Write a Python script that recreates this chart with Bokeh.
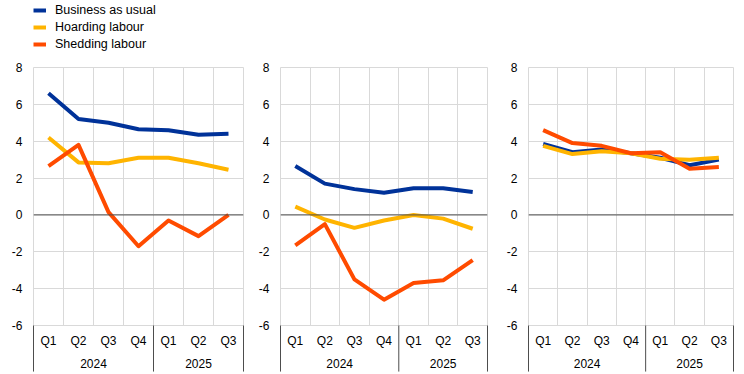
from bokeh.plotting import figure
from bokeh.models import (FactorRange, Range1d, FixedTicker, Span, Legend, LegendItem,
                          ColumnDataSource)
from bokeh.layouts import row, column
from bokeh.embed import file_html
from bokeh.resources import INLINE

# ---- data -------------------------------------------------------------
years = ["2024", "2025"]
quarters_2024 = ["Q1", "Q2", "Q3", "Q4"]
quarters_2025 = ["Q1", "Q2", "Q3"]
factors = [(years[0], q) for q in quarters_2024] + [(years[1], q) for q in quarters_2025]

y_ticks = [-6, -4, -2, 0, 2, 4, 6, 8]
y_tick_labels = {t: str(t) for t in y_ticks}

series_names = ["Business as usual", "Hoarding labour", "Shedding labour"]
series_colors = ["#003299", "#FFB400", "#FF4B00"]

p1_business = [6.6, 5.2, 5.0, 4.65, 4.6, 4.35, 4.4]
p1_hoarding = [4.2, 2.85, 2.8, 3.1, 3.1, 2.8, 2.45]
p1_shedding = [2.65, 3.8, 0.15, -1.7, -0.3, -1.15, 0.0]

p2_business = [2.65, 1.7, 1.4, 1.2, 1.45, 1.45, 1.25]
p2_hoarding = [0.45, -0.25, -0.7, -0.3, 0.0, -0.2, -0.75]
p2_shedding = [-1.65, -0.5, -3.5, -4.6, -3.7, -3.55, -2.45]

p3_business = [3.85, 3.4, 3.55, 3.35, 3.1, 2.7, 3.0]
p3_hoarding = [3.75, 3.3, 3.45, 3.35, 3.05, 3.0, 3.1]
p3_shedding = [4.6, 3.9, 3.75, 3.35, 3.4, 2.5, 2.6]

# ---- styling ----------------------------------------------------------
FONT = "Liberation Sans"
GRID = "#d9d9d9"
DARK = "#4d4d4d"
LEGEND_H = 56
HEIGHT = 374 - LEGEND_H
TOP = 67 - LEGEND_H
BOTTOM = 49
LINE_W = 4


def make_panel(series, width, left, right):
    p = figure(
        x_range=FactorRange(factors=factors, factor_padding=0, group_padding=0,
                            subgroup_padding=0, range_padding=0),
        y_range=Range1d(y_ticks[0], y_ticks[-1]),
        width=width, height=HEIGHT, output_backend="svg", toolbar_location=None,
        min_border_left=left, min_border_right=right,
        min_border_top=TOP, min_border_bottom=BOTTOM,
    )
    p.outline_line_color = GRID
    p.background_fill_color = "white"
    p.border_fill_color = "white"

    # grid
    p.ygrid.ticker = FixedTicker(ticks=y_ticks)
    p.ygrid.grid_line_color = GRID
    p.xgrid.ticker = FixedTicker(ticks=list(range(1, len(factors))))
    p.xgrid.grid_line_color = GRID

    # y axis
    p.yaxis.ticker = FixedTicker(ticks=y_ticks)
    p.yaxis.major_label_overrides = y_tick_labels
    p.yaxis.axis_line_color = None
    p.yaxis.major_tick_line_color = None
    p.yaxis.minor_tick_line_color = None
    p.yaxis.major_tick_out = 0
    p.yaxis.major_tick_in = 0
    p.yaxis.major_label_standoff = 11
    p.yaxis.major_label_text_font = FONT
    p.yaxis.major_label_text_font_size = "12px"
    p.yaxis.major_label_text_color = "#000000"

    # x axis (nested categories)
    xa = p.xaxis[0]
    xa.axis_line_color = None
    xa.major_tick_line_color = None
    xa.major_tick_out = 0
    xa.major_tick_in = 0
    xa.major_label_standoff = 8
    xa.separator_line_color = None
    xa.major_label_text_font = FONT
    xa.major_label_text_font_size = "12px"
    xa.major_label_text_color = "#000000"
    xa.group_text_font = FONT
    xa.group_text_font_size = "12px"
    xa.group_text_color = "#000000"
    xa.group_text_font_style = "normal"

    # zero line
    p.add_layout(Span(location=0, dimension="width", line_color=DARK, line_width=1))

    # group separators below the axis
    bounds = [0, len(quarters_2024), len(factors)]
    sep = ColumnDataSource(dict(x=bounds, y0=[y_ticks[0]] * 3, y1=[y_ticks[0] - 2.5] * 3))
    seg = p.segment(x0="x", y0="y0", x1="x", y1="y1", source=sep,
                    line_color=DARK, line_width=1)
    seg.level = "overlay"

    for vals, color in zip(series, series_colors):
        src = ColumnDataSource(dict(x=factors, y=vals))
        p.line(x="x", y="y", source=src, line_color=color, line_width=LINE_W,
               line_join="round")
    return p


# ---- legend strip on top -------------------------------------------------
pl = figure(width=744, height=LEGEND_H, x_range=Range1d(0, 1), y_range=Range1d(0, 1),
            output_backend="svg", toolbar_location=None, x_axis_type=None, y_axis_type=None,
            min_border_left=0, min_border_right=0, min_border_top=0, min_border_bottom=0)
pl.outline_line_color = None
pl.grid.visible = False
leg_renderers = []
for vals, c in zip([p1_business, p1_hoarding, p1_shedding], series_colors):
    r = pl.line(x=list(range(len(vals))), y=vals, line_color=c, line_width=LINE_W)
    r.visible = False  # proxy only: supplies the legend swatch
    leg_renderers.append(r)
legend = Legend(
    items=[LegendItem(label=n, renderers=[r]) for n, r in zip(series_names, leg_renderers)],
    location=(33, 5), orientation="vertical", margin=0, padding=0, spacing=3,
    label_height=14, glyph_height=14, glyph_width=13, label_standoff=9,
    border_line_color=None, background_fill_alpha=0,
    inactive_fill_alpha=0,
    label_text_font=FONT, label_text_font_size="12.5px",
    label_text_color="#000000",
)
pl.add_layout(legend)

p1 = make_panel([p1_business, p1_hoarding, p1_shedding], 255, 33, 12)
p2 = make_panel([p2_business, p2_hoarding, p2_shedding], 248, 25, 16)
p3 = make_panel([p3_business, p3_hoarding, p3_shedding], 241, 25, 11)

layout = column(pl, row(p1, p2, p3))
open("out.html", "w").write(file_html(layout, INLINE))
